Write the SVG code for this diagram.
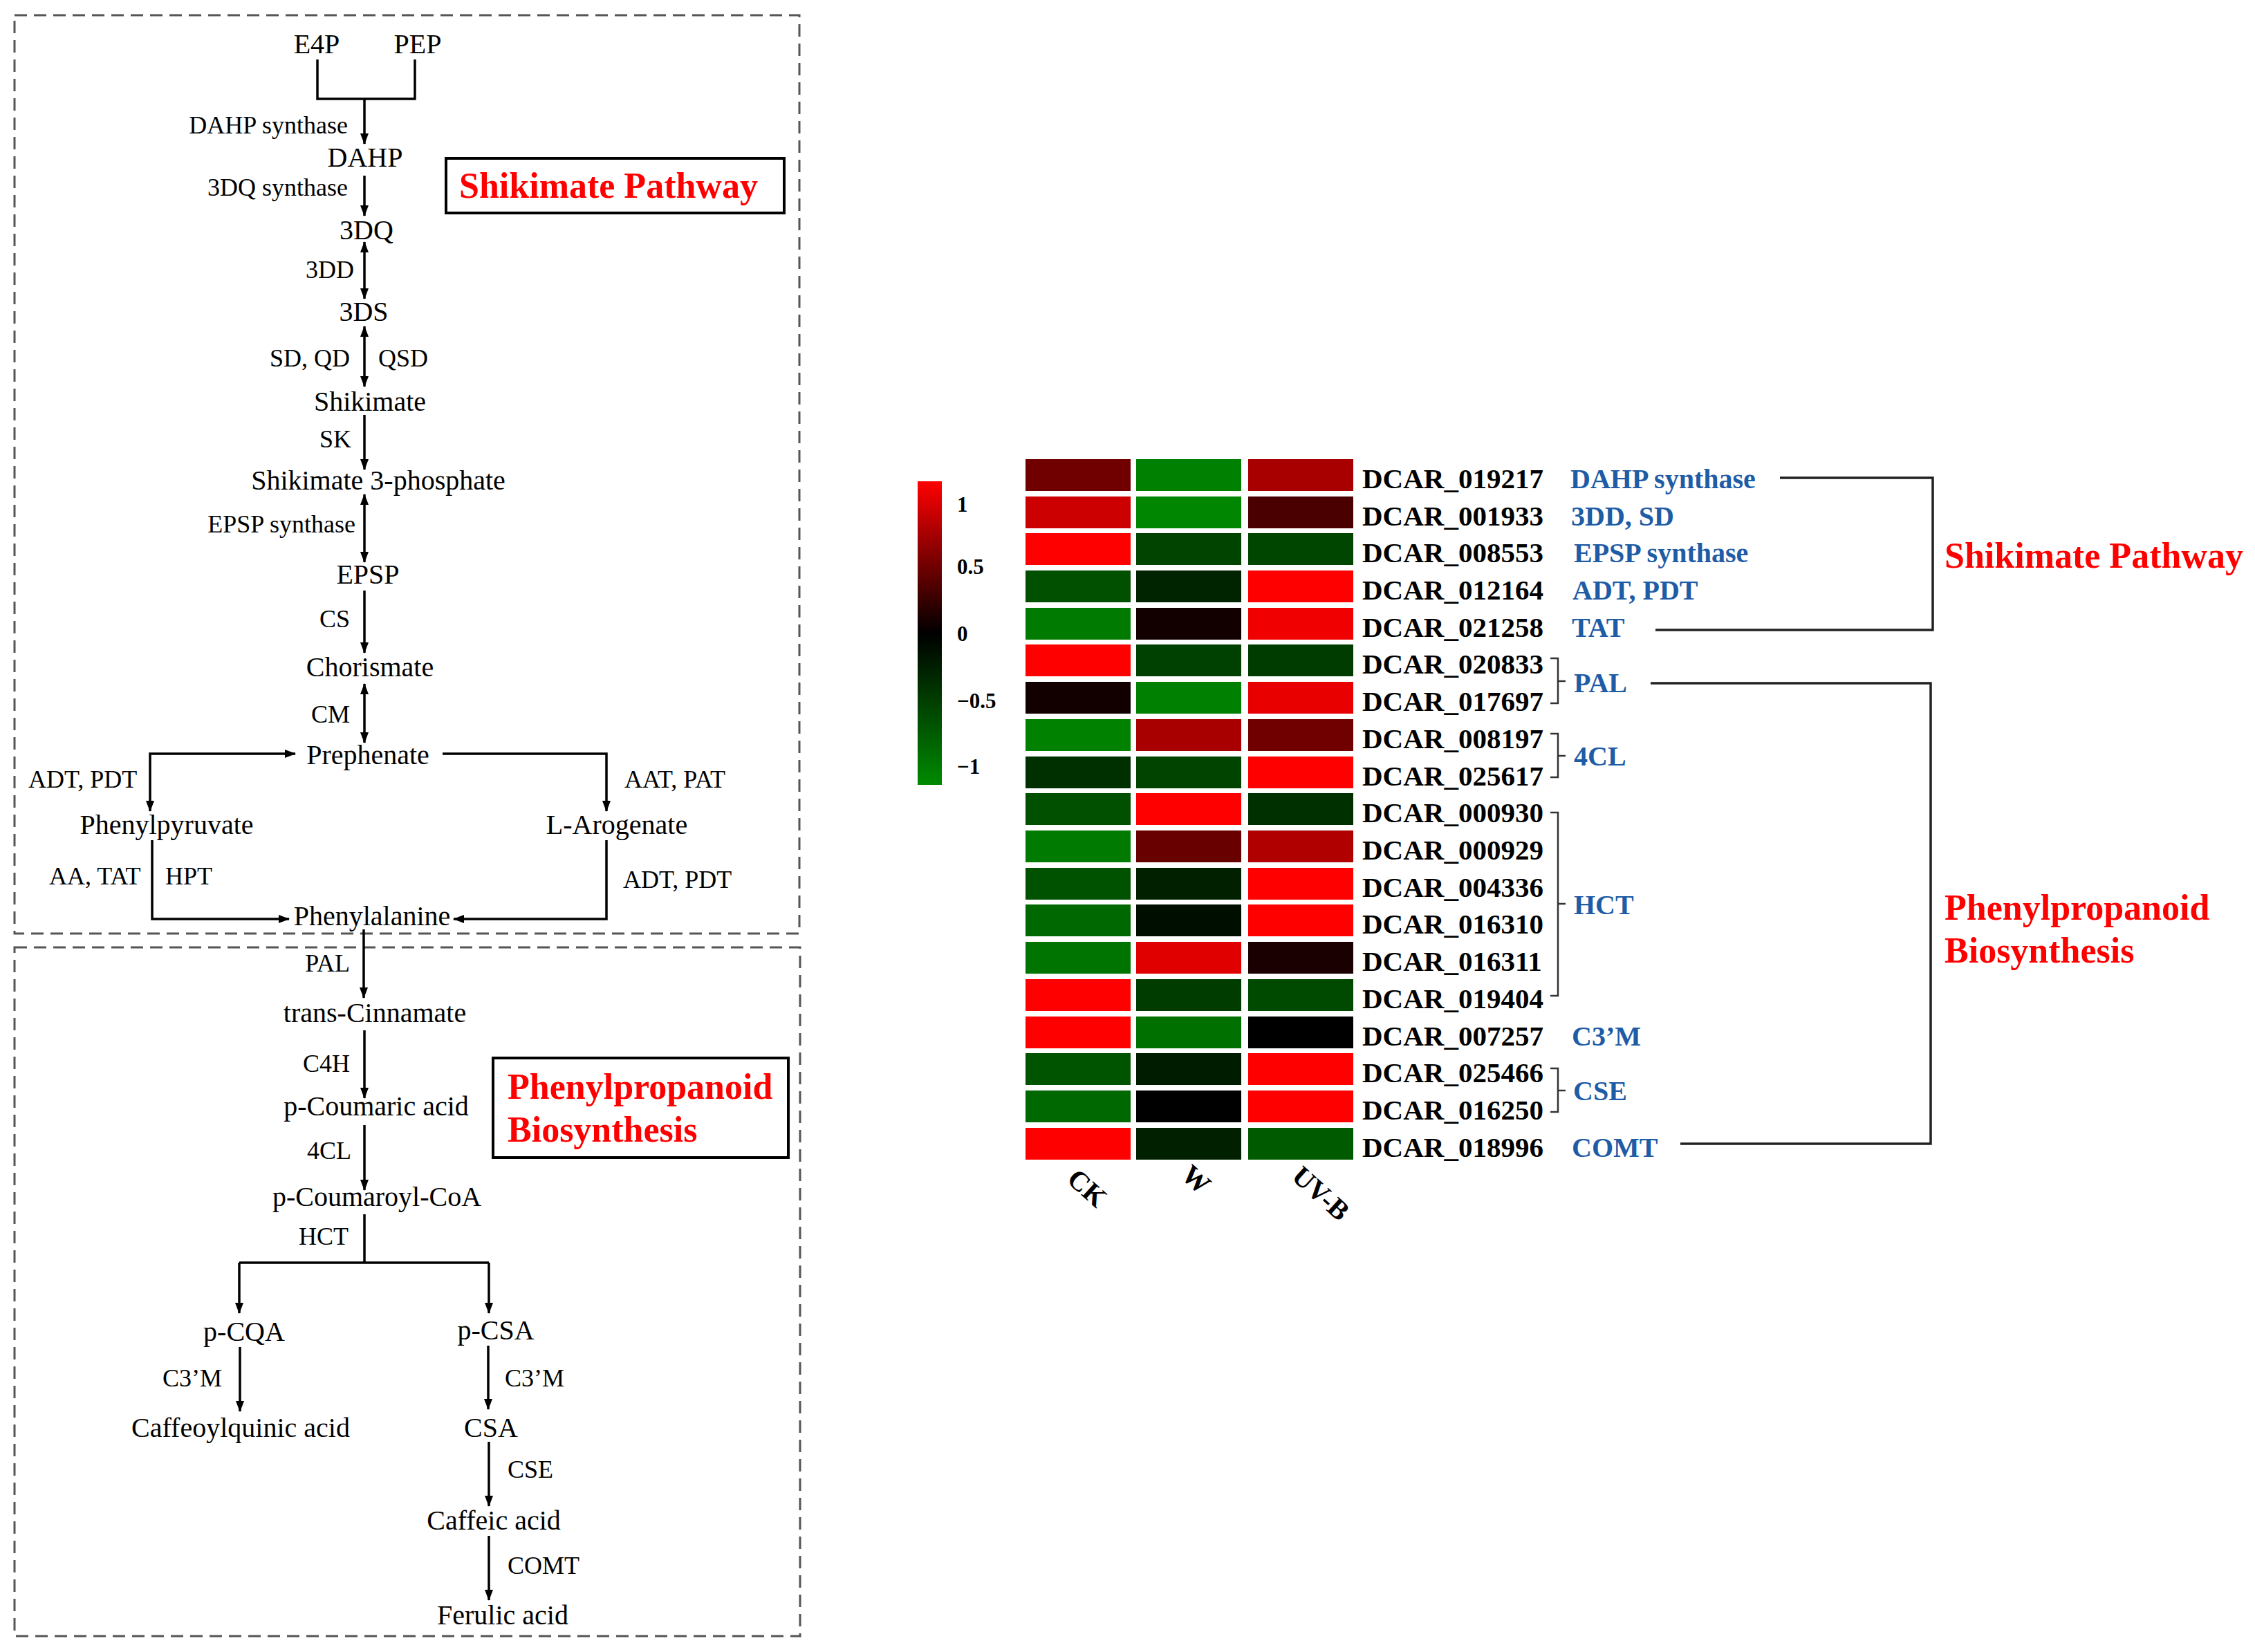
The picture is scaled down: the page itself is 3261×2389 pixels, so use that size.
<svg xmlns="http://www.w3.org/2000/svg" width="3261" height="2389" viewBox="0 0 3261 2389">
<defs>
<marker id="ah" markerUnits="userSpaceOnUse" markerWidth="16" markerHeight="14" refX="15" refY="6" orient="auto-start-reverse"><path d="M0,0 L16,6 L0,12 z" fill="#000"/></marker>
<linearGradient id="cbar" x1="0" y1="0" x2="0" y2="1"><stop offset="0" stop-color="#ff0000"/><stop offset="0.5" stop-color="#000000"/><stop offset="1" stop-color="#008a00"/></linearGradient>
</defs>
<style>
text{font-family:"Liberation Serif","Times New Roman",serif;fill:#000}
.m{font-size:40px;text-anchor:middle}
.e{font-size:36px}
.r{text-anchor:end}
.t{font-size:52px;font-weight:bold;fill:#ff0000}
.g{font-size:41px;font-weight:bold}
.b{font-size:40px;font-weight:bold;fill:#1f5ca6}
.cb{font-size:31px;font-weight:bold}
.ax{font-size:40px;font-weight:bold}
.dash{fill:none;stroke:#555;stroke-width:3;stroke-dasharray:18 10}
.ln{fill:none;stroke:#000;stroke-width:3.5}
.a{marker-end:url(#ah)}
.aa{marker-start:url(#ah);marker-end:url(#ah)}
.br{fill:none;stroke:#333;stroke-width:2.5}
.bb{fill:none;stroke:#222;stroke-width:3.5}
.box{fill:#fff;stroke:#000;stroke-width:4}
</style>
<rect width="3261" height="2389" fill="#fff"/>

<g id="panels">
<rect class="dash" x="21" y="22" width="1135" height="1328"/>
<rect class="dash" x="21" y="1370" width="1136" height="996"/>
</g>

<g id="connectors">
<path class="ln" d="M459,86 V143 H600 V86"/>
<path class="ln a" d="M527,143 V208"/>
<path class="ln a" d="M527,254 V312"/>
<path class="ln aa" d="M527,350 V432"/>
<path class="ln aa" d="M527,472 V559"/>
<path class="ln a" d="M527,600 V679"/>
<path class="ln aa" d="M527,715 V813"/>
<path class="ln a" d="M527,854 V944"/>
<path class="ln aa" d="M527,989 V1074"/>
<path class="ln aa" d="M427,1090 H217 V1173"/>
<path class="ln a" d="M640,1090 H877 V1173"/>
<path class="ln a" d="M220,1215 V1329 H418"/>
<path class="ln a" d="M877,1215 V1329 H656"/>
<path class="ln a" d="M526,1344 V1443"/>
<path class="ln a" d="M527,1490 V1588"/>
<path class="ln a" d="M527,1627 V1721"/>
<path class="ln" d="M527,1756 V1826 M346,1826 H707"/>
<path class="ln a" d="M346,1826 V1899"/>
<path class="ln a" d="M707,1826 V1899"/>
<path class="ln a" d="M347,1948 V2041"/>
<path class="ln a" d="M706,1946 V2038"/>
<path class="ln a" d="M707,2085 V2178"/>
<path class="ln a" d="M707,2221 V2314"/>
<path class="br" d="M2242,952 H2253 V1017 H2242 M2253,985 H2264"/>
<path class="br" d="M2242,1061 H2253 V1124 H2242 M2253,1093 H2264"/>
<path class="br" d="M2242,1175 H2253 V1440 H2242 M2253,1307 H2264"/>
<path class="br" d="M2242,1545 H2253 V1608 H2242 M2253,1577 H2264"/>
<path class="bb" d="M2574,691 H2795 V911 H2394"/>
<path class="bb" d="M2387,988 H2792 V1654 H2430"/>
</g>

<g id="metabolites">
<text class="m" x="458" y="77">E4P</text>
<text class="m" x="604" y="77">PEP</text>
<text class="m" x="528" y="241">DAHP</text>
<text class="m" x="530" y="346">3DQ</text>
<text class="m" x="526" y="464">3DS</text>
<text class="m" x="535" y="594">Shikimate</text>
<text class="m" x="547" y="708">Shikimate 3-phosphate</text>
<text class="m" x="532" y="844">EPSP</text>
<text class="m" x="535" y="978">Chorismate</text>
<text class="m" x="532" y="1105">Prephenate</text>
<text class="m" x="241" y="1206">Phenylpyruvate</text>
<text class="m" x="892" y="1206">L-Arogenate</text>
<text class="m" x="538" y="1338">Phenylalanine</text>
<text class="m" x="542" y="1478">trans-Cinnamate</text>
<text class="m" x="544" y="1613">p-Coumaric acid</text>
<text class="m" x="545" y="1744">p-Coumaroyl-CoA</text>
<text class="m" x="353" y="1939">p-CQA</text>
<text class="m" x="717" y="1937">p-CSA</text>
<text class="m" x="348" y="2078">Caffeoylquinic acid</text>
<text class="m" x="710" y="2078">CSA</text>
<text class="m" x="714" y="2212">Caffeic acid</text>
<text class="m" x="727" y="2349">Ferulic acid</text>
</g>

<g id="enzymes">
<text class="e r" x="503" y="193">DAHP synthase</text>
<text class="e r" x="503" y="283">3DQ synthase</text>
<text class="e r" x="512" y="402">3DD</text>
<text class="e r" x="506" y="530">SD, QD</text>
<text class="e" x="547" y="530">QSD</text>
<text class="e r" x="508" y="647">SK</text>
<text class="e r" x="514" y="770">EPSP synthase</text>
<text class="e r" x="506" y="907">CS</text>
<text class="e r" x="506" y="1045">CM</text>
<text class="e" x="41" y="1139">ADT, PDT</text>
<text class="e" x="903" y="1139">AAT, PAT</text>
<text class="e" x="71" y="1279">AA, TAT</text>
<text class="e" x="239" y="1279">HPT</text>
<text class="e" x="901" y="1284">ADT, PDT</text>
<text class="e r" x="506" y="1405">PAL</text>
<text class="e r" x="506" y="1550">C4H</text>
<text class="e r" x="508" y="1676">4CL</text>
<text class="e r" x="504" y="1800">HCT</text>
<text class="e r" x="321" y="2005">C3’M</text>
<text class="e" x="730" y="2005">C3’M</text>
<text class="e" x="734" y="2137">CSE</text>
<text class="e" x="734" y="2276">COMT</text>
</g>

<g id="title-shikimate-left">
<rect class="box" x="645" y="229" width="489" height="79"/>
<text class="t" x="664" y="286">Shikimate Pathway</text>
</g>
<g id="title-phenyl-left">
<rect class="box" x="713" y="1530" width="427" height="144"/>
<text class="t" x="734" y="1589">Phenylpropanoid</text>
<text class="t" x="734" y="1651">Biosynthesis</text>
</g>

<g id="colorbar">
<rect x="1327" y="696" width="35" height="439" fill="url(#cbar)"/>
<text class="cb" x="1384" y="740">1</text>
<text class="cb" x="1384" y="830">0.5</text>
<text class="cb" x="1384" y="927">0</text>
<text class="cb" x="1384" y="1024">−0.5</text>
<text class="cb" x="1384" y="1119">−1</text>
</g>

<g id="heatmap">
<rect x="1483" y="664" width="152" height="46" fill="#700000"/><rect x="1643" y="664" width="152" height="46" fill="#008000"/><rect x="1805" y="664" width="152" height="46" fill="#a80000"/>
<rect x="1483" y="718" width="152" height="46" fill="#cc0000"/><rect x="1643" y="718" width="152" height="46" fill="#008600"/><rect x="1805" y="718" width="152" height="46" fill="#4a0000"/>
<rect x="1483" y="771" width="152" height="46" fill="#ff0000"/><rect x="1643" y="771" width="152" height="46" fill="#004400"/><rect x="1805" y="771" width="152" height="46" fill="#004600"/>
<rect x="1483" y="825" width="152" height="46" fill="#005000"/><rect x="1643" y="825" width="152" height="46" fill="#002400"/><rect x="1805" y="825" width="152" height="46" fill="#ff0000"/>
<rect x="1483" y="879" width="152" height="46" fill="#007a00"/><rect x="1643" y="879" width="152" height="46" fill="#120000"/><rect x="1805" y="879" width="152" height="46" fill="#f00000"/>
<rect x="1483" y="932" width="152" height="46" fill="#ff0000"/><rect x="1643" y="932" width="152" height="46" fill="#004000"/><rect x="1805" y="932" width="152" height="46" fill="#003c00"/>
<rect x="1483" y="986" width="152" height="46" fill="#120000"/><rect x="1643" y="986" width="152" height="46" fill="#008000"/><rect x="1805" y="986" width="152" height="46" fill="#e80000"/>
<rect x="1483" y="1040" width="152" height="46" fill="#008200"/><rect x="1643" y="1040" width="152" height="46" fill="#a80000"/><rect x="1805" y="1040" width="152" height="46" fill="#700000"/>
<rect x="1483" y="1094" width="152" height="46" fill="#003000"/><rect x="1643" y="1094" width="152" height="46" fill="#004400"/><rect x="1805" y="1094" width="152" height="46" fill="#ff0000"/>
<rect x="1483" y="1147" width="152" height="46" fill="#005000"/><rect x="1643" y="1147" width="152" height="46" fill="#ff0000"/><rect x="1805" y="1147" width="152" height="46" fill="#003000"/>
<rect x="1483" y="1201" width="152" height="46" fill="#007a00"/><rect x="1643" y="1201" width="152" height="46" fill="#680000"/><rect x="1805" y="1201" width="152" height="46" fill="#b00000"/>
<rect x="1483" y="1255" width="152" height="46" fill="#005200"/><rect x="1643" y="1255" width="152" height="46" fill="#002000"/><rect x="1805" y="1255" width="152" height="46" fill="#ff0000"/>
<rect x="1483" y="1308" width="152" height="46" fill="#006800"/><rect x="1643" y="1308" width="152" height="46" fill="#000e00"/><rect x="1805" y="1308" width="152" height="46" fill="#ff0000"/>
<rect x="1483" y="1362" width="152" height="46" fill="#007400"/><rect x="1643" y="1362" width="152" height="46" fill="#e00000"/><rect x="1805" y="1362" width="152" height="46" fill="#1a0000"/>
<rect x="1483" y="1416" width="152" height="46" fill="#ff0000"/><rect x="1643" y="1416" width="152" height="46" fill="#003c00"/><rect x="1805" y="1416" width="152" height="46" fill="#004a00"/>
<rect x="1483" y="1470" width="152" height="46" fill="#ff0000"/><rect x="1643" y="1470" width="152" height="46" fill="#007000"/><rect x="1805" y="1470" width="152" height="46" fill="#000000"/>
<rect x="1483" y="1523" width="152" height="46" fill="#005400"/><rect x="1643" y="1523" width="152" height="46" fill="#001c00"/><rect x="1805" y="1523" width="152" height="46" fill="#ff0000"/>
<rect x="1483" y="1577" width="152" height="46" fill="#006800"/><rect x="1643" y="1577" width="152" height="46" fill="#000000"/><rect x="1805" y="1577" width="152" height="46" fill="#ff0000"/>
<rect x="1483" y="1631" width="152" height="46" fill="#ff0000"/><rect x="1643" y="1631" width="152" height="46" fill="#002000"/><rect x="1805" y="1631" width="152" height="46" fill="#005a00"/>
</g>

<g id="axis-labels">
<text class="ax" transform="translate(1541,1708) rotate(42)">CK</text>
<text class="ax" transform="translate(1706,1702) rotate(42)">W</text>
<text class="ax" transform="translate(1866,1704) rotate(42)">UV-B</text>
</g>

<g id="gene-ids">
<text class="g" x="1970" y="706">DCAR_019217</text>
<text class="g" x="1970" y="760">DCAR_001933</text>
<text class="g" x="1970" y="813">DCAR_008553</text>
<text class="g" x="1970" y="867">DCAR_012164</text>
<text class="g" x="1970" y="921">DCAR_021258</text>
<text class="g" x="1970" y="974">DCAR_020833</text>
<text class="g" x="1970" y="1028">DCAR_017697</text>
<text class="g" x="1970" y="1082">DCAR_008197</text>
<text class="g" x="1970" y="1136">DCAR_025617</text>
<text class="g" x="1970" y="1189">DCAR_000930</text>
<text class="g" x="1970" y="1243">DCAR_000929</text>
<text class="g" x="1970" y="1297">DCAR_004336</text>
<text class="g" x="1970" y="1350">DCAR_016310</text>
<text class="g" x="1970" y="1404">DCAR_016311</text>
<text class="g" x="1970" y="1458">DCAR_019404</text>
<text class="g" x="1970" y="1512">DCAR_007257</text>
<text class="g" x="1970" y="1565">DCAR_025466</text>
<text class="g" x="1970" y="1619">DCAR_016250</text>
<text class="g" x="1970" y="1673">DCAR_018996</text>
</g>

<g id="gene-names">
<text class="b" x="2271" y="706">DAHP synthase</text>
<text class="b" x="2272" y="760">3DD, SD</text>
<text class="b" x="2276" y="813">EPSP synthase</text>
<text class="b" x="2274" y="867">ADT, PDT</text>
<text class="b" x="2273" y="921">TAT</text>
<text class="b" x="2276" y="1001">PAL</text>
<text class="b" x="2276" y="1107">4CL</text>
<text class="b" x="2276" y="1322">HCT</text>
<text class="b" x="2273" y="1512">C3’M</text>
<text class="b" x="2275" y="1591">CSE</text>
<text class="b" x="2273" y="1673">COMT</text>
</g>

<g id="pathway-shikimate-right">
<text class="t" x="2812" y="821">Shikimate Pathway</text>
</g>
<g id="pathway-phenyl-right">
<text class="t" x="2812" y="1330">Phenylpropanoid</text>
<text class="t" x="2812" y="1392">Biosynthesis</text>
</g>
</svg>
